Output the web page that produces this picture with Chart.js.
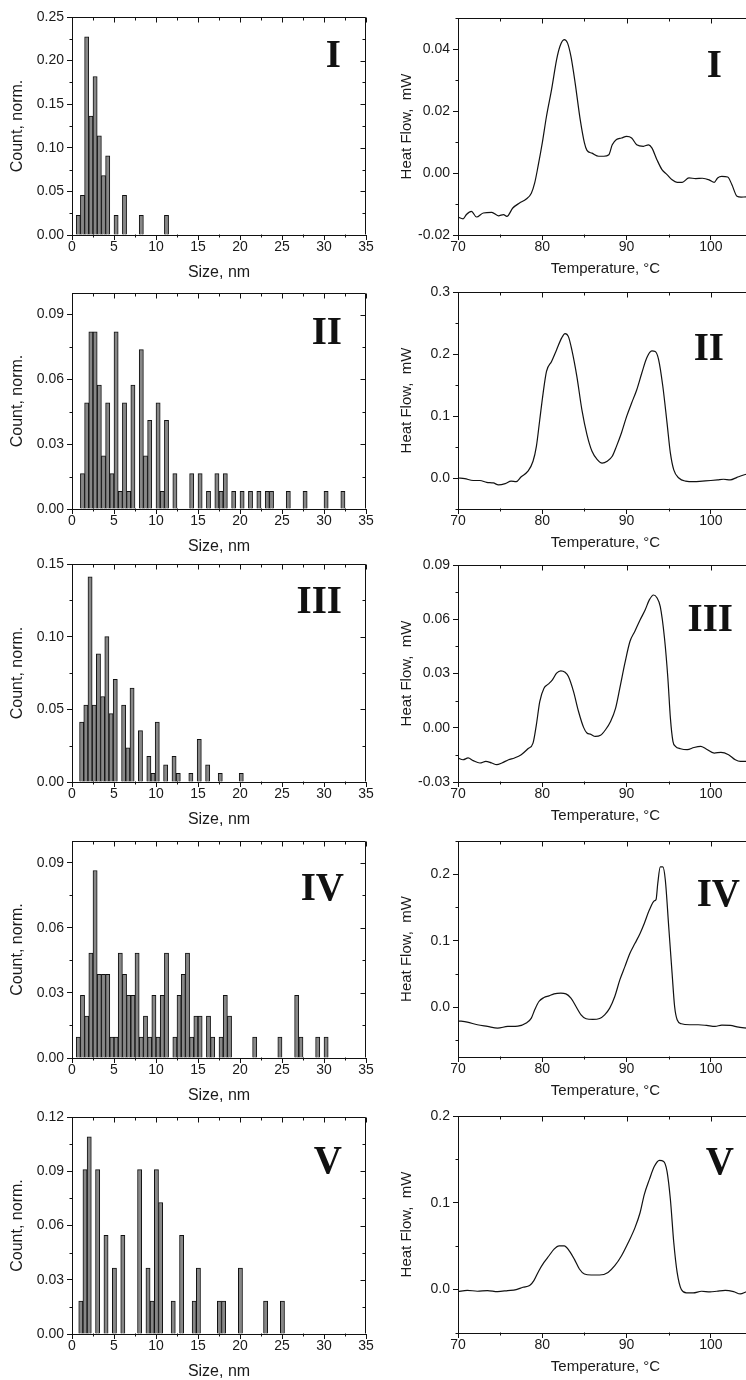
<!DOCTYPE html>
<html><head><meta charset="utf-8">
<script src="https://cdn.jsdelivr.net/npm/chart.js@4/dist/chart.umd.min.js"></script>
<style>
html,body{margin:0;padding:0;background:#fff;}
#wrap{position:relative;width:746px;height:1380px;overflow:hidden;background:#fff;}
#wrap canvas{position:absolute;}
</style></head><body><div id="wrap"></div>
<script>
// ---------- Histogram data: bin centre (nm) and normalised count ----------
const sizeI  = [0.75,1.25,1.75,2.25,2.75,3.25,3.75,4.25,5.25,6.25,8.25,11.25];
const countI = [0.0227,0.0455,0.2273,0.1364,0.1818,0.1136,0.0682,0.0909,0.0227,0.0455,0.0227,0.0227];

const sizeII  = [1.25,1.75,2.25,2.75,3.25,3.75,4.25,4.75,5.25,5.75,6.25,6.75,7.25,8.25,8.75,9.25,10.25,10.75,11.25,12.25,14.25,15.25,16.25,17.25,17.75,18.25,19.25,20.25,21.25,22.25,23.25,23.75,25.75,27.75,30.25,32.25];
const countII = [0.0164,0.0492,0.082,0.082,0.0574,0.0246,0.0492,0.0164,0.082,0.0082,0.0492,0.0082,0.0574,0.0738,0.0246,0.041,0.0492,0.0082,0.041,0.0164,0.0164,0.0164,0.0082,0.0164,0.0082,0.0164,0.0082,0.0082,0.0082,0.0082,0.0082,0.0082,0.0082,0.0082,0.0082,0.0082];

const sizeIII  = [1.15,1.65,2.15,2.65,3.15,3.65,4.15,4.65,5.15,6.15,6.65,7.15,8.15,9.15,9.65,10.15,11.15,12.15,12.65,14.15,15.15,16.15,17.65,20.15];
const countIII = [0.0412,0.0529,0.1412,0.0529,0.0882,0.0588,0.1,0.0471,0.0706,0.0529,0.0235,0.0647,0.0353,0.0176,0.0059,0.0412,0.0118,0.0176,0.0059,0.0059,0.0294,0.0118,0.0059,0.0059];

const sizeIV  = [0.75,1.25,1.75,2.25,2.75,3.25,3.75,4.25,4.75,5.25,5.75,6.25,6.75,7.25,7.75,8.25,8.75,9.25,9.75,10.25,10.75,11.25,12.25,12.75,13.25,13.75,14.25,14.75,15.25,16.25,16.75,17.75,18.25,18.75,21.75,24.75,26.75,27.25,29.25,30.25];
const countIV = [0.0096,0.0289,0.0193,0.0483,0.0864,0.0386,0.0386,0.0386,0.0096,0.0096,0.0483,0.0386,0.0289,0.0289,0.0483,0.0096,0.0193,0.0096,0.0289,0.0096,0.0289,0.0483,0.0096,0.0289,0.0386,0.0483,0.0096,0.0193,0.0193,0.0193,0.0096,0.0096,0.0289,0.0193,0.0096,0.0096,0.0289,0.0096,0.0096,0.0096];

const sizeV  = [1.05,1.55,2.05,3.05,4.05,5.05,6.05,8.05,9.05,9.55,10.05,10.55,12.05,13.05,14.55,15.05,17.55,18.05,20.05,23.05,25.05];
const countV = [0.0182,0.0909,0.1091,0.0909,0.0545,0.0364,0.0545,0.0909,0.0364,0.0182,0.0909,0.0727,0.0182,0.0545,0.0182,0.0364,0.0182,0.0182,0.0364,0.0182,0.0182];

// ---------- DSC data: temperature (°C) and heat flow (mW) ----------
const tempI = [70.0,70.6,71.0,71.6,72.2,73.0,74.0,74.8,75.4,75.8,
  76.5,77.3,78.1,78.7,79.1,79.5,80.0,80.5,81.1,81.7,
  82.1,82.6,83.0,83.4,83.9,84.5,85.0,85.3,85.9,86.7,
  87.3,87.9,88.3,88.8,89.4,90.0,90.6,91.2,92.0,92.6,
  93.0,93.6,94.2,94.8,95.4,96.0,96.6,97.4,98.2,99.0,
  99.8,100.4,100.8,101.3,102.0,102.5,103.1,103.6,104.2,105.0];
const heatI = [-0.0142,-0.0148,-0.0134,-0.0124,-0.0142,-0.0129,-0.0127,-0.0138,-0.0134,-0.0140,
  -0.0113,-0.0097,-0.0084,-0.0065,-0.0032,0.0022,0.0097,0.0183,0.0269,0.0366,
  0.0409,0.0430,0.0419,0.0376,0.0290,0.0172,0.0097,0.0073,0.0064,0.0054,
  0.0054,0.0059,0.0091,0.0108,0.0113,0.0118,0.0113,0.0091,0.0086,0.0091,
  0.0081,0.0043,0.0011,-0.0005,-0.0022,-0.0030,-0.0030,-0.0016,-0.0018,-0.0017,
  -0.0022,-0.0030,-0.0016,-0.0011,-0.0013,-0.0038,-0.0075,-0.0078,-0.0077,-0.0078];

const tempII = [70.0,70.8,71.8,72.6,73.4,74.2,74.8,75.6,76.3,76.9,
  77.5,78.3,78.9,79.3,79.7,80.1,80.5,81.1,81.7,82.3,
  82.7,83.1,83.5,84.1,84.7,85.3,85.9,86.5,87.1,87.7,
  88.3,88.8,89.4,90.0,90.6,91.2,91.8,92.4,93.0,93.4,
  93.8,94.3,94.8,95.2,95.6,96.2,97.0,98.0,99.0,100.0,
  100.8,101.5,102.3,103.1,103.7,104.2,105.0];
const heatII = [0.000,-0.001,-0.004,-0.004,-0.007,-0.008,-0.011,-0.009,-0.005,-0.006,
  0.002,0.011,0.027,0.051,0.094,0.137,0.172,0.188,0.207,0.226,
  0.233,0.228,0.207,0.164,0.110,0.070,0.043,0.030,0.024,0.027,
  0.035,0.051,0.073,0.099,0.121,0.142,0.169,0.194,0.205,0.204,
  0.191,0.148,0.089,0.040,0.013,0.000,-0.005,-0.006,-0.005,-0.004,
  -0.003,-0.002,-0.003,0.001,0.004,0.006,0.008];

const tempIII = [70.0,70.6,71.2,71.8,72.6,73.3,74.0,74.6,75.2,76.0,
  76.7,77.5,78.3,78.9,79.3,79.7,80.2,80.7,81.2,81.7,
  82.2,82.7,83.1,83.7,84.3,84.9,85.3,85.7,86.3,86.9,
  87.5,88.1,88.7,89.2,89.8,90.4,91.0,91.6,92.2,92.7,
  93.2,93.6,94.0,94.5,94.9,95.2,95.5,95.8,96.4,97.2,
  98.0,98.8,99.4,100.4,101.2,102.1,102.9,103.5,104.2,105.0];
const heatIII = [-0.0167,-0.0177,-0.0167,-0.0182,-0.0195,-0.0186,-0.0195,-0.0204,-0.0195,-0.0177,
  -0.0167,-0.0149,-0.0116,-0.0085,0.0017,0.0145,0.0219,0.0241,0.0265,0.0302,
  0.0315,0.0307,0.0283,0.0201,0.0090,0.0002,-0.0029,-0.0035,-0.0048,-0.0042,
  -0.0011,0.0035,0.0109,0.0219,0.0357,0.0477,0.0535,0.0596,0.0651,0.0707,
  0.0734,0.0719,0.0670,0.0495,0.0274,0.0053,-0.0075,-0.0103,-0.0116,-0.0121,
  -0.0109,-0.0103,-0.0116,-0.0140,-0.0136,-0.0149,-0.0177,-0.0186,-0.0186,-0.0190];

const tempIV = [70.0,71.1,72.3,73.5,74.7,75.9,77.1,78.1,78.7,79.1,
  79.6,80.2,80.8,81.4,82.2,82.8,83.4,84.0,84.6,85.2,
  86.0,86.8,87.4,88.0,88.6,89.2,89.8,90.4,91.0,91.6,
  92.1,92.7,93.3,93.5,93.7,94.0,94.3,94.6,95.0,95.4,
  95.7,96.0,96.5,97.5,98.5,99.5,100.5,101.3,102.3,103.3,
  104.3,105.0];
const heatIV = [-0.0205,-0.0225,-0.0265,-0.0290,-0.0315,-0.0290,-0.0285,-0.0240,-0.0165,-0.0040,
  0.0085,0.0145,0.0170,0.0200,0.0210,0.0200,0.0135,0.0010,-0.0115,-0.0175,
  -0.0185,-0.0170,-0.0115,-0.0015,0.0160,0.0410,0.0610,0.0810,0.0960,0.1110,
  0.1260,0.1460,0.1600,0.1620,0.1860,0.2110,0.2110,0.1910,0.1210,0.0510,
  0.0010,-0.0190,-0.0250,-0.0265,-0.0265,-0.0275,-0.0290,-0.0270,-0.0275,-0.0300,
  -0.0315,-0.0315];

const tempV = [70.0,71.1,72.3,73.5,74.7,75.9,76.9,77.7,78.5,79.0,
  79.6,80.2,80.8,81.4,82.0,82.6,83.2,83.8,84.4,85.0,
  85.8,86.8,87.8,88.6,89.4,90.2,91.0,91.6,92.1,92.7,
  93.3,93.9,94.4,94.8,95.2,95.6,96.0,96.5,97.1,97.9,
  98.9,99.9,100.7,101.7,102.7,103.5,104.3,105.0];
const heatV = [-0.0023,-0.0008,-0.0019,-0.0011,-0.0023,-0.0011,0.0000,0.0027,0.0046,0.0103,
  0.0218,0.0313,0.0390,0.0466,0.0504,0.0504,0.0447,0.0351,0.0237,0.0179,
  0.0168,0.0168,0.0198,0.0275,0.0390,0.0542,0.0714,0.0885,0.1095,0.1267,
  0.1420,0.1489,0.1477,0.1363,0.1038,0.0542,0.0198,0.0000,-0.0038,-0.0038,
  -0.0019,-0.0027,-0.0019,-0.0008,-0.0023,-0.0050,-0.0023,-0.0020];

// ---------- Tick labels ----------
const sizeTicks = ['0','5','10','15','20','25','30','35'];
const tempTicks = ['70','80','90','100'];
const histYTicksI   = ['0.00','0.05','0.10','0.15','0.20','0.25'];
const histYTicksII  = ['0.00','0.03','0.06','0.09'];
const histYTicksIII = ['0.00','0.05','0.10','0.15'];
const histYTicksIV  = ['0.00','0.03','0.06','0.09'];
const histYTicksV   = ['0.00','0.03','0.06','0.09','0.12'];
const dscYTicksI   = ['-0.02','0.00','0.02','0.04'];
const dscYTicksII  = ['0.0','0.1','0.2','0.3'];
const dscYTicksIII = ['-0.03','0.00','0.03','0.06','0.09'];
const dscYTicksIV  = ['0.0','0.1','0.2'];
const dscYTicksV   = ['0.0','0.1','0.2'];
const panelNames = ['I','II','III','IV','V'];

// ---------- Axis ranges ----------
const histYMax = [0.25, 0.1, 0.15, 0.1, 0.12];
const dscYRange = [[-0.02,0.05],[-0.05,0.3],[-0.03,0.09],[-0.075,0.25],[-0.05,0.2]];

Chart.defaults.font.family = '"Liberation Sans", Arial, sans-serif';
Chart.defaults.font.size = 14;
Chart.defaults.color = '#1a1a1a';

const framePlugin = {
  id: 'frame',
  afterDraw(chart, args, opts) {
    const {ctx, chartArea: a} = chart;
    const x = chart.scales.x, y = chart.scales.y;
    const L = Math.round(a.left) + 0.5, R = Math.round(a.right) - 0.5;
    const T = Math.round(a.top) + 0.5, B = Math.round(a.bottom) - 0.5;
    const near = (arr, v) => arr.some(t => Math.abs(t.value - v) < 1e-7);
    const minors = (scale) => {
      const tk = scale.ticks, out = [];
      if (tk.length < 2) return out;
      const half = (tk[1].value - tk[0].value) / 2;
      for (let v = tk[0].value; v >= scale.min - 1e-9; v -= half) if (!near(tk, v)) out.push(v);
      for (let v = tk[0].value; v <= scale.max + 1e-9; v += half) if (!near(tk, v)) out.push(v);
      return out;
    };
    ctx.save();
    ctx.strokeStyle = '#111';
    ctx.lineWidth = 1;
    ctx.beginPath();
    ctx.moveTo(L, T); ctx.lineTo(R, T); ctx.lineTo(R, B);
    x.ticks.forEach(t => {
      const p = Math.round(x.getPixelForValue(t.value)) + 0.5;
      ctx.moveTo(p, T); ctx.lineTo(p, T + 5);
    });
    y.ticks.forEach(t => {
      const p = Math.round(y.getPixelForValue(t.value)) + 0.5;
      ctx.moveTo(R, p); ctx.lineTo(R - 5, p);
    });
    minors(x).forEach(v => {
      const p = Math.round(x.getPixelForValue(v)) + 0.5;
      ctx.moveTo(p, B); ctx.lineTo(p, B + 3);
      ctx.moveTo(p, T); ctx.lineTo(p, T + 3);
    });
    minors(y).forEach(v => {
      const p = Math.round(y.getPixelForValue(v)) + 0.5;
      ctx.moveTo(L, p); ctx.lineTo(L - 3, p);
      ctx.moveTo(R, p); ctx.lineTo(R - 3, p);
    });
    ctx.stroke();
    ctx.font = 'bold 39px "Liberation Serif", "Times New Roman", serif';
    ctx.fillStyle = '#111';
    ctx.textAlign = 'right';
    ctx.textBaseline = 'alphabetic';
    ctx.fillText(opts.label, a.right - opts.lr, a.top + opts.lt + 27);
    ctx.restore();
  }
};

function axisCfg(labels, min, max, fit, title, titlePad, isX, titleSize) {
  const vals = labels.map(parseFloat);
  return {
    type: 'linear', min: min, max: max, offset: false,
    afterBuildTicks: (s) => { s.ticks = vals.map(v => ({value: v})); },
    afterFit: (s) => { if (isX) s.height = fit; else s.width = fit; },
    ticks: {
      callback: (v, i) => labels[i],
      padding: isX ? -1 : 3,
      maxRotation: 0, autoSkip: false,
      font: {size: 14}
    },
    grid: {display: true, drawOnChartArea: false, drawTicks: true, tickLength: 5, color: '#111', lineWidth: 1, offset: false},
    border: {display: true, color: '#111', width: 1},
    title: {display: true, text: title, font: {size: titleSize}, padding: titlePad, color: '#1a1a1a'}
  };
}

const wrap = document.getElementById('wrap');
function addCanvas(left, top, w, h) {
  const c = document.createElement('canvas');
  c.width = w; c.height = h;
  c.style.left = left + 'px'; c.style.top = top + 'px';
  c.style.width = w + 'px'; c.style.height = h + 'px';
  wrap.appendChild(c);
  return c;
}

// ---------- Layout (plot area positions) ----------
const leftTop = [17, 293, 564, 841, 1117];
const leftH   = [218, 216, 218, 217, 217];
const rightTop = [18, 292, 565, 841, 1116];
const rightH   = [217, 217, 217, 216, 217];
const leftLab  = [[25,23],[24,24],[24,22],[22,32],[24,29]];
const rightLab = [[31,32],[29,41],[20,39],[13,38],[19,31]];

const histSizes  = [sizeI, sizeII, sizeIII, sizeIV, sizeV];
const histCounts = [countI, countII, countIII, countIV, countV];
const histYT = [histYTicksI, histYTicksII, histYTicksIII, histYTicksIV, histYTicksV];
const dscT = [tempI, tempII, tempIII, tempIV, tempV];
const dscH = [heatI, heatII, heatIII, heatIV, heatV];
const dscYT = [dscYTicksI, dscYTicksII, dscYTicksIII, dscYTicksIV, dscYTicksV];

const PADTOP = 12, XH = 50;

for (let i = 0; i < 5; i++) {
  // Histogram
  const cL = addCanvas(0, leftTop[i] - PADTOP, 376, PADTOP + leftH[i] + XH);
  new Chart(cL, {
    type: 'bar',
    data: {
      datasets: [{
        data: histSizes[i].map((s, k) => ({x: s, y: histCounts[i][k]})),
        backgroundColor: 'rgb(135,135,135)',
        borderColor: '#111',
        borderWidth: 1,
        categoryPercentage: 1.0,
        barPercentage: 1.0
      }]
    },
    options: {
      responsive: false, animation: false, devicePixelRatio: 1,
      layout: {padding: {top: PADTOP, right: 10, bottom: 0, left: 0}},
      plugins: {legend: {display: false}, tooltip: {enabled: false},
                frame: {label: panelNames[i], lr: leftLab[i][0], lt: leftLab[i][1]}},
      scales: {
        x: axisCfg(sizeTicks, 0, 35, XH, 'Size, nm', {top: 0, bottom: 3}, true, 16),
        y: axisCfg(histYT[i], 0, histYMax[i], 72, 'Count, norm.', {top: 8, bottom: 0}, false, 16)
      }
    },
    plugins: [framePlugin]
  });

  // DSC
  const cR = addCanvas(380, rightTop[i] - PADTOP, 374, PADTOP + rightH[i] + XH);
  new Chart(cR, {
    type: 'line',
    data: {
      datasets: [{
        data: dscT[i].map((t, k) => ({x: t, y: dscH[i][k]})),
        borderColor: '#111',
        borderWidth: 1.2,
        pointRadius: 0,
        fill: false,
        cubicInterpolationMode: 'monotone'
      }]
    },
    options: {
      responsive: false, animation: false, devicePixelRatio: 1,
      layout: {padding: {top: PADTOP, right: 1, bottom: 0, left: 0}},
      plugins: {legend: {display: false}, tooltip: {enabled: false},
                frame: {label: panelNames[i], lr: rightLab[i][0], lt: rightLab[i][1]}},
      scales: {
        x: axisCfg(tempTicks, 70, 105, XH, 'Temperature, \u00B0C', {top: 0, bottom: 7}, true, 15),
        y: axisCfg(dscYT[i], dscYRange[i][0], dscYRange[i][1], 78, 'Heat Flow,  mW', {top: 18, bottom: 0}, false, 15)
      }
    },
    plugins: [framePlugin]
  });
}
</script>
</body></html>
